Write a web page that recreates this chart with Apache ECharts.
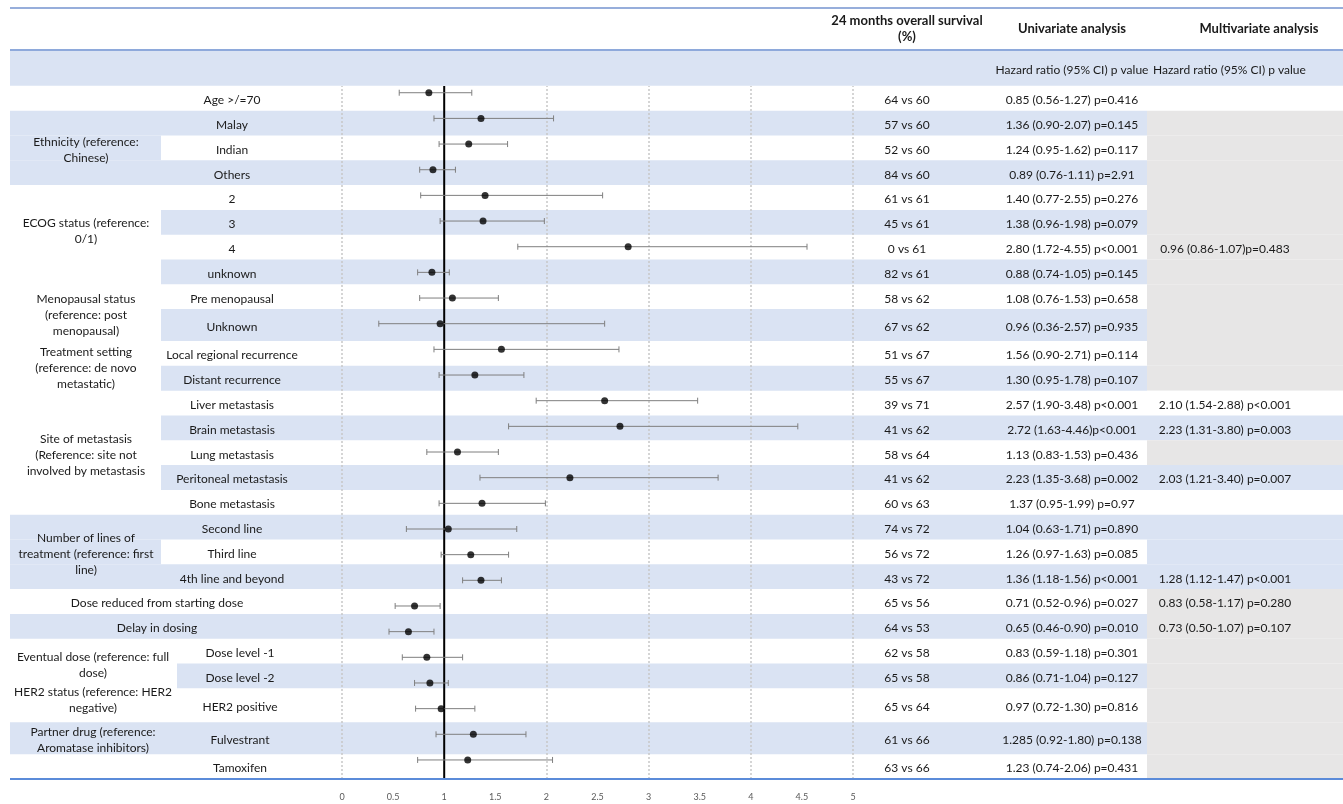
<!DOCTYPE html>
<html>
<head>
<meta charset="utf-8">
<script src="https://cdn.jsdelivr.net/npm/echarts@6/dist/echarts.min.js"></script>
<style>
  html, body { margin: 0; padding: 0; background: #ffffff; }
  #chart { width: 1343px; height: 804px; }
</style>
</head>
<body>
<div id="chart"></div>
<script>
// ---- Data ----------------------------------------------------------------
const rowLabels = [
  'Age >/=70', 'Malay', 'Indian', 'Others', '2', '3', '4', 'unknown',
  'Pre menopausal', 'Unknown', 'Local regional recurrence', 'Distant recurrence',
  'Liver metastasis', 'Brain metastasis', 'Lung metastasis', 'Peritoneal metastasis',
  'Bone metastasis', 'Second line', 'Third line', '4th line and beyond',
  'Dose reduced from starting dose', 'Delay in dosing', 'Dose level -1', 'Dose level -2',
  'HER2 positive', 'Fulvestrant', 'Tamoxifen'
];
const survival24 = [
  '64 vs 60', '57 vs 60', '52 vs 60', '84 vs 60', '61 vs 61', '45 vs 61', '0 vs 61', '82 vs 61',
  '58 vs 62', '67 vs 62', '51 vs 67', '55 vs 67', '39 vs 71', '41 vs 62', '58 vs 64', '41 vs 62',
  '60 vs 63', '74 vs 72', '56 vs 72', '43 vs 72', '65 vs 56', '64 vs 53', '62 vs 58', '65 vs 58',
  '65 vs 64', '61 vs 66', '63 vs 66'
];
// Univariate hazard ratios with 95% CI
const hrUni = [
  '0.85', '1.36', '1.24', '0.89', '1.40', '1.38', '2.80', '0.88', '1.08', '0.96', '1.56', '1.30',
  '2.57', '2.72', '1.13', '2.23', '1.37', '1.04', '1.26', '1.36', '0.71', '0.65', '0.83', '0.86',
  '0.97', '1.285', '1.23'
];
const ciLow = [
  '0.56', '0.90', '0.95', '0.76', '0.77', '0.96', '1.72', '0.74', '0.76', '0.36', '0.90', '0.95',
  '1.90', '1.63', '0.83', '1.35', '0.95', '0.63', '0.97', '1.18', '0.52', '0.46', '0.59', '0.71',
  '0.72', '0.92', '0.74'
];
const ciHigh = [
  '1.27', '2.07', '1.62', '1.11', '2.55', '1.98', '4.55', '1.05', '1.53', '2.57', '2.71', '1.78',
  '3.48', '4.46', '1.53', '3.68', '1.99', '1.71', '1.63', '1.56', '0.96', '0.90', '1.18', '1.04',
  '1.30', '1.80', '2.06'
];
const pUni = [
  ' p=0.416', ' p=0.145', ' p=0.117', ' p=2.91', ' p=0.276', ' p=0.079', ' p<0.001', ' p=0.145',
  ' p=0.658', ' p=0.935', ' p=0.114', ' p=0.107', ' p<0.001', 'p<0.001', ' p=0.436', ' p=0.002',
  ' p=0.97', ' p=0.890', ' p=0.085', ' p<0.001', ' p=0.027', ' p=0.010', ' p=0.301', ' p=0.127',
  ' p=0.816', ' p=0.138', ' p=0.431'
];
const multivariate = [
  '', '', '', '', '', '', '0.96 (0.86-1.07)p=0.483', '', '', '', '', '',
  '2.10 (1.54-2.88) p<0.001', '2.23 (1.31-3.80) p=0.003', '', '2.03 (1.21-3.40) p=0.007', '',
  '', '', '1.28 (1.12-1.47) p<0.001', '0.83 (0.58-1.17) p=0.280', '0.73 (0.50-1.07) p=0.107',
  '', '', '', '', ''
];
const groupNames = [
  'Ethnicity (reference:\nChinese)',
  'ECOG status (reference:\n0/1)',
  'Menopausal status\n(reference: post\nmenopausal)',
  'Treatment setting\n(reference: de novo\nmetastatic)',
  'Site of metastasis\n(Reference: site not\ninvolved by metastasis',
  'Number of lines of\ntreatment (reference: first\nline)',
  'Eventual dose (reference: full\ndose)',
  'HER2 status (reference: HER2\nnegative)',
  'Partner drug (reference:\nAromatase inhibitors)'
];
const groupFirst = [1, 4, 8, 10, 12, 17, 22, 24, 25];
const groupLast  = [3, 7, 9, 11, 16, 19, 23, 24, 25];
const headers = ['24 months overall survival\n(%)', 'Univariate analysis', 'Multivariate analysis'];
const subHeader = 'Hazard ratio (95% CI) p value';
const axisMax = 5;

// ---- Table layout ----------------------------------------------------------
const UNIT = 24.85;                       // px per standard row
const HEAD_H = 42 / UNIT, SUB_H = 36 / UNIT;
const rowH = rowLabels.map((_, i) => (i === 9 || i === 25) ? 32 / UNIT : (i === 24 ? 34 / UNIT : 1));
const rowTop = [];
rowH.reduce((acc, h, i) => { rowTop[i] = acc; return acc + h; }, HEAD_H + SUB_H);
const TOTAL = HEAD_H + SUB_H + rowH.reduce((a, b) => a + b, 0);

const COL = {
  left: 10, right: 1343, splitUpper: 161, splitLower: 177, lowerFrom: 22,
  groupXUpper: 86, groupXLower: 93, itemXUpper: 232, itemXLower: 240, mergedX: 157,
  survX: 907, uniX: 1072, multiLeft: 1147, multiX: 1225, multiHeadX: 1259, multiSubX: 1153
};
const mergedLabelRows = [20, 21];            // labels spanning both label columns
const fullBandRows = [20, 21, 25];           // bands starting at the table's left edge
const shadedGroups = [0, 5];                 // group cells filled with the band colour
const multiFill = rowLabels.map((_, i) =>
  [0, 12, 16].includes(i) ? 'white' : ([13, 15, 17, 18, 19].includes(i) ? 'band' : 'grey'));
const groupDy = [0, -6, 0, 0, 0, 0, 0, -7, 0];

const BLUE = '#dae3f3', GREY = '#e7e6e6', TEXT = '#1a1a1a';
const FONT = 'Lato, "Open Sans", sans-serif';
const fills = { band: BLUE, grey: GREY, white: '#ffffff' };

function textEl(x, y, text, opts) {
  return {
    type: 'text',
    style: Object.assign({
      x: x, y: y, text: text, align: 'center', verticalAlign: 'middle',
      fontFamily: FONT, fontSize: 12, fill: TEXT, lineHeight: 16
    }, opts || {})
  };
}

function rect(api, x0, x1, y0, y1, fill) {
  const a = api.coord([x0, y0]), b = api.coord([x1, y1]);
  return { type: 'rect', shape: { x: a[0], y: a[1], width: b[0] - a[0], height: b[1] - a[1] },
           style: { fill: fill } };
}

function renderRow(params, api) {
  const i = api.value(0);
  const y0 = rowTop[i], y1 = rowTop[i] + rowH[i];
  const yc = api.coord([0, (y0 + y1) / 2])[1] + 2;
  const shaded = i % 2 === 1;
  const split = i >= COL.lowerFrom ? COL.splitLower : COL.splitUpper;
  const g = groupFirst.findIndex((f, k) => i >= f && i <= groupLast[k]);
  const kids = [];
  if (fullBandRows.includes(i)) {
    if (shaded) kids.push(rect(api, COL.left, COL.multiLeft, y0, y1, BLUE));
  } else {
    if (shaded) kids.push(rect(api, split, COL.multiLeft, y0, y1, BLUE));
    if (g >= 0 && shadedGroups.includes(g)) kids.push(rect(api, COL.left, split, y0, y1, BLUE));
  }
  kids.push(rect(api, COL.multiLeft, COL.right, y0, y1, fills[multiFill[i]]));
  const px = x => api.coord([x, 0])[0];
  const labelX = mergedLabelRows.includes(i) ? COL.mergedX
    : (i >= COL.lowerFrom ? COL.itemXLower : COL.itemXUpper);
  kids.push(textEl(px(labelX), yc, rowLabels[i]));
  kids.push(textEl(px(COL.survX), yc, survival24[i]));
  kids.push(textEl(px(COL.uniX), yc,
    hrUni[i] + ' (' + ciLow[i] + '-' + ciHigh[i] + ')' + pUni[i]));
  if (multivariate[i]) kids.push(textEl(px(COL.multiX), yc, multivariate[i]));
  return { type: 'group', children: kids };
}

function renderGroup(params, api) {
  const k = api.value(0);
  const y0 = rowTop[groupFirst[k]];
  const y1 = rowTop[groupLast[k]] + rowH[groupLast[k]];
  const yc = api.coord([0, (y0 + y1) / 2])[1] + 2 + groupDy[k];
  const x = api.coord([groupFirst[k] >= COL.lowerFrom ? COL.groupXLower : COL.groupXUpper, 0])[0];
  return textEl(x, yc, groupNames[k]);
}

function renderHeader(params, api) {
  const px = x => api.coord([x, 0])[0];
  const yHead = api.coord([0, HEAD_H / 2])[1];
  const ySub = api.coord([0, HEAD_H + SUB_H / 2])[1] + 2;
  const bold = { fontWeight: 'bold', fontSize: 13 };
  return {
    type: 'group',
    children: [
      rect(api, COL.left, COL.right, HEAD_H, HEAD_H + SUB_H, BLUE),
      textEl(px(COL.survX), yHead, headers[0], bold),
      textEl(px(COL.uniX), yHead, headers[1], bold),
      textEl(px(COL.multiHeadX), yHead, headers[2], bold),
      textEl(px(COL.uniX), ySub, subHeader),
      textEl(px(COL.multiSubX), ySub, subHeader, { align: 'left' })
    ]
  };
}

function renderRules(params, api) {
  const line = (y, color, w) => {
    const a = api.coord([COL.left, y]), b = api.coord([COL.right, y]);
    return { type: 'line', shape: { x1: a[0], y1: a[1], x2: b[0], y2: b[1] },
             style: { stroke: color, lineWidth: w } };
  };
  return {
    type: 'group',
    children: [
      line(0, '#7593cf', 1.6),
      line(HEAD_H, '#8ea9db', 2),
      line(TOTAL, '#5b8bd9', 2)
    ]
  };
}

function renderErrorBar(params, api) {
  const lo = api.coord([api.value(0), api.value(1)]);
  const hi = api.coord([api.value(2), api.value(1)]);
  const y = lo[1], cap = 3;
  const st = { stroke: '#7f7f7f', lineWidth: 1 };
  return {
    type: 'group',
    children: [
      { type: 'line', shape: { x1: lo[0], y1: y, x2: hi[0], y2: y }, style: st },
      { type: 'line', shape: { x1: lo[0], y1: y - cap, x2: lo[0], y2: y + cap }, style: st },
      { type: 'line', shape: { x1: hi[0], y1: y - cap, x2: hi[0], y2: y + cap }, style: st }
    ]
  };
}

const chart = echarts.init(document.getElementById('chart'), null, { renderer: 'canvas' });

const option = {
  animation: false,
  backgroundColor: '#ffffff',
  textStyle: { fontFamily: FONT },
  grid: [
    { left: 0, right: 0, top: 8, bottom: 25 },           // table
    { left: 342, right: 490, top: 79.9, bottom: 31.2 },  // forest marks
    { left: 342, right: 490, top: 86, bottom: 25 }       // reference lines + axis
  ],
  xAxis: [
    { gridIndex: 0, type: 'value', min: 0, max: 1343, show: false },
    { gridIndex: 1, type: 'value', min: 0, max: axisMax, show: false },
    {
      gridIndex: 2, type: 'value', min: 0, max: axisMax, interval: 0.5, position: 'bottom',
      axisLine: { show: false }, axisTick: { show: false }, splitLine: { show: false },
      axisLabel: { color: '#595959', fontSize: 9, margin: 14, fontFamily: FONT }
    }
  ],
  yAxis: [
    { gridIndex: 0, type: 'value', min: 0, max: TOTAL, inverse: true, show: false },
    { gridIndex: 1, type: 'category', data: rowLabels, inverse: true, show: false },
    { gridIndex: 2, type: 'value', min: 0, max: 1, show: false }
  ],
  series: [
    {
      type: 'custom', name: 'rows', xAxisIndex: 0, yAxisIndex: 0, z: 1, silent: true,
      renderItem: renderRow, data: rowLabels.map((_, i) => [i])
    },
    {
      type: 'custom', name: 'groups', xAxisIndex: 0, yAxisIndex: 0, z: 2, silent: true,
      renderItem: renderGroup, data: groupNames.map((_, k) => [k])
    },
    {
      type: 'custom', name: 'header', xAxisIndex: 0, yAxisIndex: 0, z: 2, silent: true,
      renderItem: renderHeader, data: [[0]]
    },
    {
      type: 'line', name: 'HR = 1', xAxisIndex: 2, yAxisIndex: 2, z: 3, silent: true,
      data: [[1, 0], [1, 1]], showSymbol: false, symbol: 'none',
      lineStyle: { color: '#000000', width: 2 },
      markLine: {
        silent: true, symbol: 'none', label: { show: false }, z: 3,
        lineStyle: { color: '#c8c8c8', type: [2, 2], width: 1.5 },
        data: [0, 2, 3, 4, 5].map(v => ({ xAxis: v }))
      }
    },
    {
      type: 'custom', name: '95% CI', xAxisIndex: 1, yAxisIndex: 1, z: 4, silent: true,
      renderItem: renderErrorBar,
      encode: { x: [0, 2], y: 1 },
      data: rowLabels.map((_, i) => [+ciLow[i], i, +ciHigh[i]])
    },
    {
      type: 'scatter', name: 'Hazard ratio', xAxisIndex: 1, yAxisIndex: 1, z: 5, silent: true,
      symbol: 'circle', symbolSize: 7, itemStyle: { color: '#000000' },
      data: rowLabels.map((_, i) => [+hrUni[i], i])
    },
    {
      type: 'custom', name: 'rules', xAxisIndex: 0, yAxisIndex: 0, z: 6, silent: true,
      renderItem: renderRules, data: [[0]]
    }
  ]
};
chart.setOption(option);
</script>
</body>
</html>
